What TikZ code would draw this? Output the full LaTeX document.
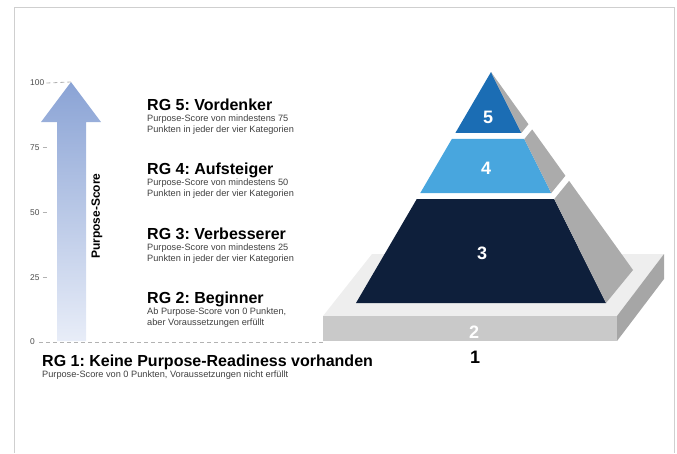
\documentclass[tikz,border=0pt]{standalone}
\usepackage{fontspec}
\setmainfont{Liberation Sans}
\usetikzlibrary{positioning, calc}
\frenchspacing

\definecolor{rgblue}{HTML}{1B6DB4}
\definecolor{rglight}{HTML}{48A6DE}
\definecolor{rgnavy}{HTML}{0E1F3B}
\definecolor{sidegray}{HTML}{ABABAB}
\definecolor{topgray}{HTML}{EEEEEE}
\definecolor{frontgray}{HTML}{C9C9C9}
\definecolor{rightgray}{HTML}{A6A6A6}
\definecolor{framegray}{HTML}{CFCFCF}
\definecolor{arrowtop}{HTML}{8AA3D5}
\definecolor{arrowbottom}{HTML}{E8EDF8}

\newcommand{\Layer}[3]{%
  \fill[#3] ($(apex)!#1!(fl)$) -- ($(apex)!#1!(fr)$) -- ($(apex)!#2!(fr)$) -- ($(apex)!#2!(fl)$) -- cycle;
  \fill[sidegray] ($(apex)!#1!(fr)$) -- ($(apex)!#1!(br)$) -- ($(apex)!#2!(br)$) -- ($(apex)!#2!(fr)$) -- cycle;
}

\tikzset{
    heading/.style={anchor=base west, inner sep=0pt, text depth=3pt, font=\bfseries\fontsize{16}{18}\selectfont},
    subtext/.style={anchor=north west, inner sep=0pt, align=left, text=black!75, font=\fontsize{9.2}{11}\selectfont},
    ticklabel/.style={anchor=west, inner sep=0pt, text=black!70, font=\fontsize{8.4}{10}\selectfont},
    tick/.style={draw=black!30, line width=0.8pt, dash pattern=on 4pt off 3pt},
    levelnum/.style={inner sep=0pt, text=white, font=\bfseries\fontsize{18}{20}\selectfont},
}

\begin{document}
\begin{tikzpicture}[x=1pt, y=-1pt]
    \useasboundingbox (0,0) rectangle (677,453);
    \draw[framegray, line width=1pt] (14,453) -- (14,7) -- (674,7) -- (674,453);

    % score axis
    \foreach \val/\y in {100/83, 75/147.75, 50/212.5, 25/277.25, 0/342}
      \node[ticklabel] (l\val) at (30,\y) {\val};

    \coordinate (tip) at (71,82);
    \coordinate (pflb) at (323,342);
    \draw[tick] (l100.east) ++(2,0) -- (tip);
    \foreach \val in {75, 50, 25}
      \draw[tick] (l\val.east) ++(3,0) -- ++(5,0);
    \draw[tick] (l0.east) ++(4,0) -- (pflb);

    \shade[top color=arrowtop, bottom color=arrowbottom]
      (tip) -- (101,122) -- (86,122) -- (86,341) -- (57,341) -- (57,122) -- (41,122) -- cycle;
    \node[rotate=90, inner sep=0pt, font=\bfseries\fontsize{12}{14}\selectfont] (score) at (97,216) {Purpose-Score};

    % levels
    \node[heading] (rg5) at (147,110) {RG 5: Vordenker};
    \node[subtext, below=1pt of rg5.south west, anchor=north west] (rg5t) {Purpose-Score von mindestens 75\\Punkten in jeder der vier Kategorien};
    \node[heading] (rg4) at (147,174.5) {RG 4: Aufsteiger};
    \node[subtext, below=1pt of rg4.south west, anchor=north west] (rg4t) {Purpose-Score von mindestens 50\\Punkten in jeder der vier Kategorien};
    \node[heading] (rg3) at (147,239) {RG 3: Verbesserer};
    \node[subtext, below=1pt of rg3.south west, anchor=north west] (rg3t) {Purpose-Score von mindestens 25\\Punkten in jeder der vier Kategorien};
    \node[heading] (rg2) at (147,303.5) {RG 2: Beginner};
    \node[subtext, below=1pt of rg2.south west, anchor=north west] (rg2t) {Ab Purpose-Score von 0 Punkten,\\aber Voraussetzungen erfüllt};
    \node[heading] (rg1) at (42,366) {RG 1: Keine Purpose-Readiness vorhanden};
    \node[subtext, below=1pt of rg1.south west, anchor=north west] (rg1t) {Purpose-Score von 0 Punkten, Voraussetzungen nicht erfüllt};

    % platform
    \coordinate (pfl) at (323,316);
    \coordinate (pfr) at (617,316);
    \coordinate (pbr) at (664,254);
    \coordinate (pbl) at (372,254);
    \fill[topgray] (pfl) -- (pfr) -- (pbr) -- (pbl) -- cycle;
    \fill[frontgray] (pfl) -- (pfr) -- (617,341) -- (323,341) -- cycle;
    \fill[rightgray] (pfr) -- (pbr) -- (664,279) -- (617,341) -- cycle;
    \node[levelnum] (n2) at (474,332.5) {2};
    \node[levelnum, text=black] (n1) at (475,357.5) {1};

    % pyramid
    \coordinate (apex) at (491,72);
    \coordinate (fl) at (356,303);
    \coordinate (fr) at (606,303);
    \coordinate (br) at (633,270);
    \Layer{0}{0.264}{rgblue}
    \Layer{0.290}{0.524}{rglight}
    \Layer{0.550}{1}{rgnavy}
    \node[levelnum] (n5) at (488,117) {5};
    \node[levelnum] (n4) at (486,168) {4};
    \node[levelnum] (n3) at (482,253) {3};
\end{tikzpicture}
\end{document}
